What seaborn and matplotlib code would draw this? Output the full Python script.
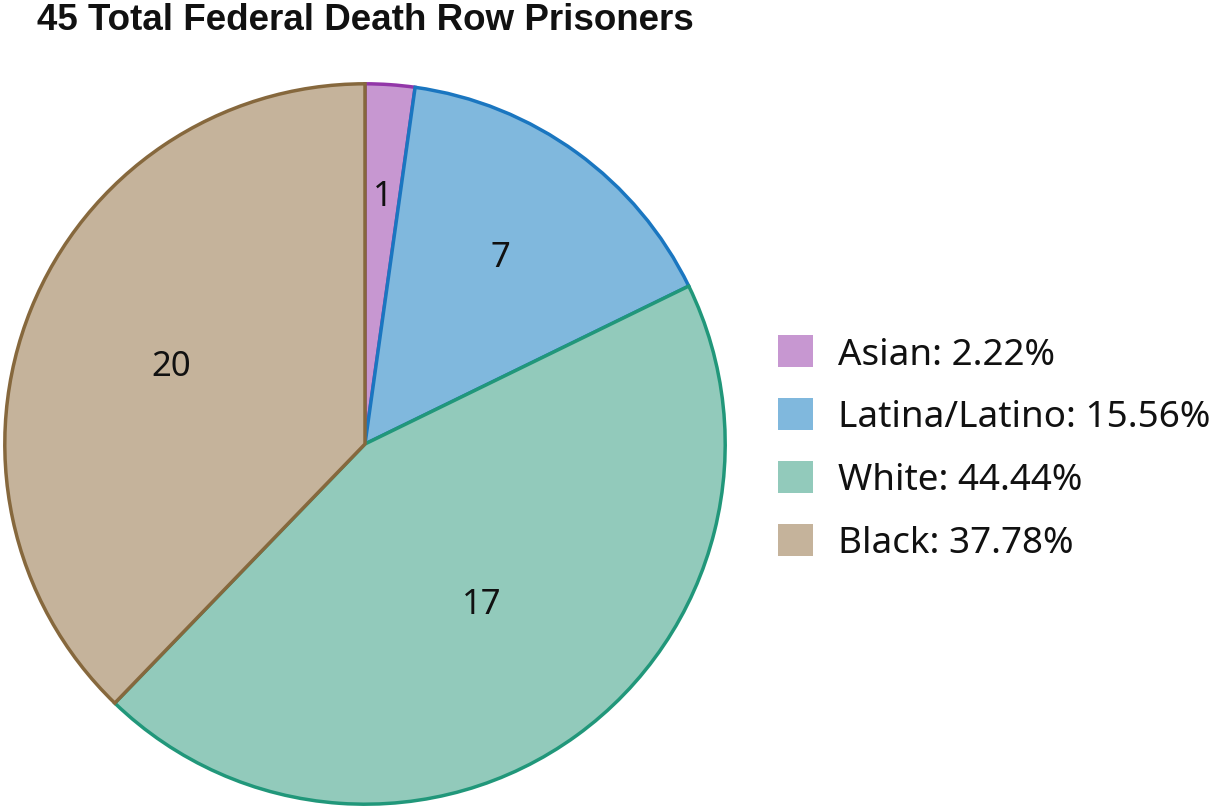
import numpy as np
import matplotlib
matplotlib.use("Agg")
import matplotlib.pyplot as plt
from matplotlib.patches import Patch
import seaborn as sns

# data, clockwise from the top
groups = ["Asian", "Latina/Latino", "White", "Black"]
counts = [1, 7, 20, 17]
# numbers printed inside the slices, as they appear in the chart
slice_text = ["1", "7", "17", "20"]
title = "45 Total Federal Death Row Prisoners"

fills = ["#c797d1", "#80b8dd", "#92cabb", "#c5b39b"]
edges = ["#9236a8", "#1a76c0", "#21977a", "#86683d"]
label_r = [0.69, 0.64, 0.55, 0.58]

sns.set_theme(style="white")
plt.rcParams["font.family"] = ["Noto Sans", "DejaVu Sans"]

W, H = 1212, 812
fig = plt.figure(figsize=(W / 100, H / 100), dpi=100)
cx, cy, R = 365, 445, 362
ax = fig.add_axes([(cx - R) / W, (H - cy - R) / H, 2 * R / W, 2 * R / H])

wedges, _ = ax.pie(counts, colors=fills, startangle=90, counterclock=False,
                   wedgeprops=dict(linewidth=2.5), radius=1)
for w, ec in zip(wedges, edges):
    w.set_edgecolor(ec)
ax.set_xlim(-1.005, 1.005)
ax.set_ylim(-1.005, 1.005)
ax.set_aspect("equal")
ax.axis("off")

for w, t, r in zip(wedges, slice_text, label_r):
    mid = np.deg2rad((w.theta1 + w.theta2) / 2)
    ax.text(r * np.cos(mid), r * np.sin(mid), t, ha="center", va="center",
            fontsize=25, color="#111111")

fig.text(37 / W, 1 - 3 / H, title, ha="left", va="top", fontsize=26.5,
         fontweight="bold", family=["Liberation Sans", "DejaVu Sans"],
         color="#111111")

total = sum(counts)
handles = [Patch(facecolor=f, edgecolor="none") for f in fills]
names = [f"{g}: {c / total * 100:.2f}%" for g, c in zip(groups, counts)]
fig.legend(handles, names, loc="upper left",
           bbox_to_anchor=(778 / W, 1 - 336 / H), frameon=False,
           fontsize=26.5, handlelength=0.95, handleheight=0.95,
           handletextpad=0.68, labelspacing=0.69, borderpad=0,
           borderaxespad=0, labelcolor="#111111")

fig.savefig("out.png", dpi=100)
